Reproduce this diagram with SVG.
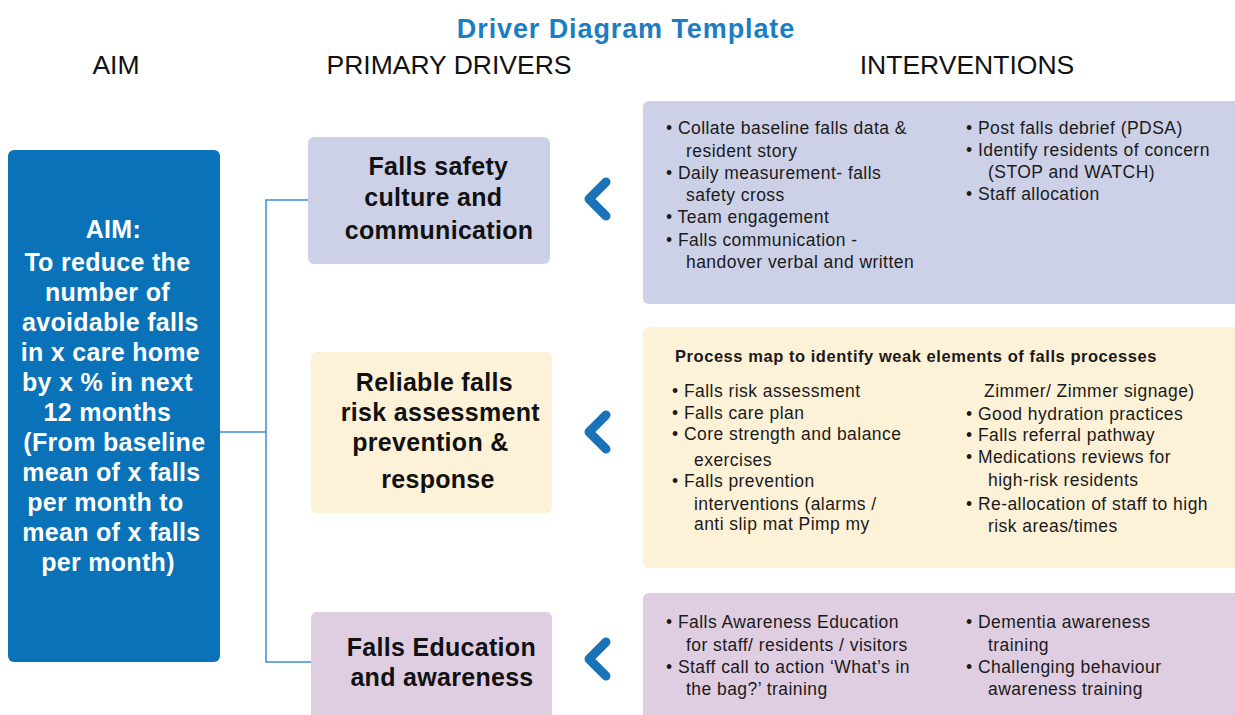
<svg xmlns="http://www.w3.org/2000/svg" width="1235" height="715" viewBox="0 0 1235 715">
<style>
.title{font-family:"Liberation Sans",Arial,sans-serif;font-weight:bold;font-size:27px;letter-spacing:0.9px;fill:#1b7dc3}
.hdr{font-family:"Liberation Sans",Arial,sans-serif;font-size:26.5px;fill:#111}
.aim{font-family:"Liberation Sans",Arial,sans-serif;font-weight:bold;font-size:25px;letter-spacing:0.3px;fill:#fff}
.drv{font-family:"Liberation Sans",Arial,sans-serif;font-weight:bold;font-size:25px;letter-spacing:0.3px;fill:#111}
.it{font-family:"Liberation Sans",Arial,sans-serif;font-size:17.5px;letter-spacing:0.45px;fill:#1a1a1a}
.itb{font-family:"Liberation Sans",Arial,sans-serif;font-weight:bold;font-size:16.5px;letter-spacing:0.55px;fill:#1a1a1a}
.lav{fill:#cdd1e7}
.crm{fill:#fdf1d7}
.pnk{fill:#dfcde2}
.con{fill:none;stroke:#3c8fce;stroke-width:1.5}
.chev{fill:none;stroke:#1a73b8;stroke-width:9;stroke-linecap:round;stroke-linejoin:round}
</style>
<rect width="1235" height="715" fill="#fff"/>
<text class="title" x="626" y="38" text-anchor="middle">Driver Diagram Template</text>
<text class="hdr" x="116" y="74" text-anchor="middle">AIM</text>
<text class="hdr" x="449" y="74" text-anchor="middle">PRIMARY DRIVERS</text>
<text class="hdr" x="967" y="74" text-anchor="middle">INTERVENTIONS</text>

<g id="connectors">
<path class="con" d="M308 200 H266 V662 H311"/>
<path class="con" d="M220 432 H266"/>
<path class="chev" d="M606 182 L589 199 L606 216"/>
<path class="chev" d="M606 415 L589 432 L606 449"/>
<path class="chev" d="M606 642 L589 659 L606 676"/>
</g>

<g id="aim">
<rect x="8" y="150" width="212" height="512" rx="6" fill="#0a72b8"/>
<text class="aim" text-anchor="middle">
<tspan x="117" y="238">AIM:</tspan>
<tspan x="111" y="271">To reduce the</tspan>
<tspan x="111" y="301">number of</tspan>
<tspan x="114" y="331">avoidable falls</tspan>
<tspan x="114" y="361">in x care home</tspan>
<tspan x="111" y="391">by x % in next</tspan>
<tspan x="111" y="421">12 months</tspan>
<tspan x="118" y="451">(From baseline</tspan>
<tspan x="115" y="481">mean of x falls</tspan>
<tspan x="109" y="511">per month to</tspan>
<tspan x="115" y="541">mean of x falls</tspan>
<tspan x="108" y="571">per month)</tspan>
</text>
</g>

<g id="driver1">
<rect class="lav" x="308" y="137" width="242" height="127" rx="6"/>
<text class="drv" text-anchor="middle">
<tspan x="442" y="175">Falls  safety</tspan>
<tspan x="437" y="206">culture and</tspan>
<tspan x="439" y="239">communication</tspan>
</text>
</g>

<g id="driver2">
<rect class="crm" x="311" y="352" width="241" height="161" rx="6"/>
<text class="drv" text-anchor="middle">
<tspan x="438" y="391">Reliable falls</tspan>
<tspan x="444" y="421">risk assessment</tspan>
<tspan x="434" y="451">prevention &amp;</tspan>
<tspan x="438" y="488">response</tspan>
</text>
</g>

<g id="driver3">
<rect class="pnk" x="311" y="612" width="241" height="110" rx="6"/>
<text class="drv" text-anchor="middle">
<tspan x="445" y="656">Falls Education</tspan>
<tspan x="442" y="686">and awareness</tspan>
</text>
</g>

<g id="interventions1">
<rect class="lav" x="643" y="101" width="600" height="203" rx="6"/>
<text class="it">
<tspan x="666" y="134">• Collate baseline falls data &amp;</tspan>
<tspan x="686" y="157">resident story</tspan>
<tspan x="666" y="179">• Daily measurement- falls</tspan>
<tspan x="686" y="201">safety cross</tspan>
<tspan x="666" y="223">• Team engagement</tspan>
<tspan x="666" y="246">• Falls communication -</tspan>
<tspan x="686" y="268">handover verbal and written</tspan>
<tspan x="966" y="134">• Post falls debrief (PDSA)</tspan>
<tspan x="966" y="156">• Identify residents of concern</tspan>
<tspan x="988" y="178">(STOP and WATCH)</tspan>
<tspan x="966" y="200">• Staff allocation</tspan>
</text>
</g>

<g id="interventions2">
<rect class="crm" x="643" y="327" width="600" height="241" rx="6"/>
<text class="itb" x="675" y="362">Process map to identify weak elements of falls processes</text>
<text class="it">
<tspan x="672" y="397">• Falls risk assessment</tspan>
<tspan x="672" y="419">• Falls care plan</tspan>
<tspan x="672" y="440">• Core strength and balance</tspan>
<tspan x="694" y="466">exercises</tspan>
<tspan x="672" y="487">• Falls prevention</tspan>
<tspan x="694" y="510">interventions (alarms /</tspan>
<tspan x="694" y="530">anti slip mat Pimp my</tspan>
<tspan x="984" y="397">Zimmer/ Zimmer signage)</tspan>
<tspan x="966" y="420">• Good hydration practices</tspan>
<tspan x="966" y="441">• Falls referral pathway</tspan>
<tspan x="966" y="463">• Medications reviews for</tspan>
<tspan x="988" y="486">high-risk residents</tspan>
<tspan x="966" y="510">• Re-allocation of staff to high</tspan>
<tspan x="988" y="532">risk areas/times</tspan>
</text>
</g>

<g id="interventions3">
<rect class="pnk" x="643" y="593" width="600" height="130" rx="6"/>
<text class="it">
<tspan x="666" y="628">• Falls Awareness Education</tspan>
<tspan x="686" y="651">for staff/ residents / visitors</tspan>
<tspan x="666" y="673">• Staff call to action ‘What’s in</tspan>
<tspan x="686" y="695">the bag?’ training</tspan>
<tspan x="966" y="628">• Dementia awareness</tspan>
<tspan x="988" y="651">training</tspan>
<tspan x="966" y="673">• Challenging behaviour</tspan>
<tspan x="988" y="695">awareness training</tspan>
</text>
</g>
</svg>
